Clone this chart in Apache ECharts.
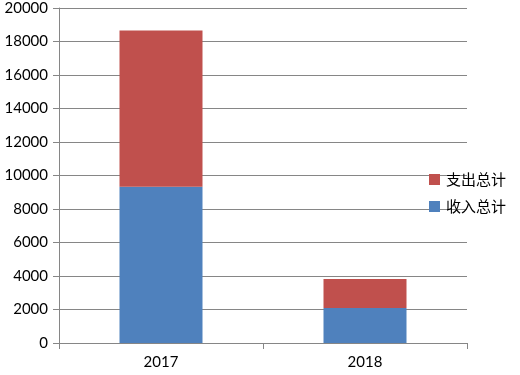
<!DOCTYPE html>
<html><head><meta charset="utf-8">
<script src="https://cdn.jsdelivr.net/npm/echarts@6/dist/echarts.min.js"></script>
<style>html,body{margin:0;padding:0;background:#fff}#c{width:520px;height:375px}</style>
</head><body><div id="c"></div>
<script>
const categories = ['2017', '2018'];
const incomeName = '收入总计';
const expenseName = '支出总计';
const income = [9330, 2090];
const expense = [9320, 1730];
const yTicks = { min: 0, max: 20000, interval: 2000 };

const chart = echarts.init(document.getElementById('c'), null, { renderer: 'canvas' });
const font = 'Lato, "Noto Sans CJK SC", sans-serif';
chart.setOption({
  animation: false,
  backgroundColor: '#fff',
  grid: { left: 59, right: 53, top: 8, bottom: 32 },
  legend: {
    orient: 'vertical', left: 424, top: 166,
    data: [expenseName, incomeName],
    icon: 'rect', itemWidth: 11, itemHeight: 11, itemGap: 10,
    textStyle: { fontFamily: '"Noto Sans CJK SC", sans-serif', fontSize: 15, color: '#000', lineHeight: 17, padding: [0, 0, 0, 1] }
  },
  xAxis: {
    type: 'category', data: categories,
    axisLine: { lineStyle: { color: '#868686', width: 1 } },
    axisTick: { show: true, length: 6, alignWithLabel: false, lineStyle: { color: '#868686' } },
    axisLabel: { fontFamily: font, fontSize: 15, color: '#000', margin: 12 }
  },
  yAxis: {
    type: 'value', min: yTicks.min, max: yTicks.max, interval: yTicks.interval,
    axisLine: { show: true, lineStyle: { color: '#868686', width: 1 } },
    axisTick: { show: true, length: 6, lineStyle: { color: '#868686' } },
    axisLabel: { fontFamily: font, fontSize: 15, color: '#000', margin: 11, formatter: v => String(v) },
    splitLine: { lineStyle: { color: '#868686', width: 1 } }
  },
  series: [
    { name: incomeName, type: 'bar', stack: 'total', data: income, barWidth: 83, itemStyle: { color: '#4F81BD' } },
    { name: expenseName, type: 'bar', stack: 'total', data: expense, barWidth: 83, itemStyle: { color: '#C0504D' } }
  ]
});
</script></body></html>
